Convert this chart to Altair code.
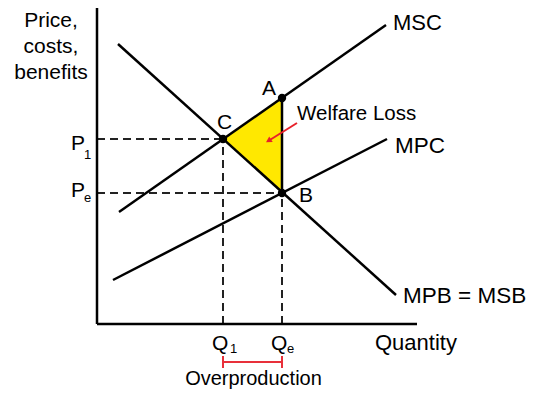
import altair as alt
import pandas as pd

# Curves (two end points each), in plot units (x: quantity, y: price)
curve_names = ["MSC", "MSC", "MPC", "MPC", "MPB", "MPB"]
curve_x = [22, 289, 16, 290, 21, 299]
curve_y = [112, 299, 44, 185, 280, 29]

# Key points
point_names = ["C", "A", "B"]
point_x = [126, 185, 185]
point_y = [185, 226, 131]

q1, qe = 126, 185
p1, pe = 185, 131
x_max, y_max = 320, 316

FONT = "Liberation Sans"

X = alt.X("x:Q", scale=alt.Scale(domain=[0, x_max], nice=False, zero=False), axis=None)
Y = alt.Y("y:Q", scale=alt.Scale(domain=[0, y_max], nice=False, zero=False), axis=None)

curves = pd.DataFrame({"curve": curve_names, "x": curve_x, "y": curve_y})
points = pd.DataFrame({"name": point_names, "x": point_x, "y": point_y})

# welfare loss triangle C-A-B (between MSC and MPB)
tri = pd.DataFrame({"x": [q1, qe], "y": [p1, point_y[1]], "y2": [p1, pe]})
tri_layer = alt.Chart(tri).mark_area(color="#FFE800", opacity=1).encode(
    x=X, y=Y, y2="y2:Q")

ab = pd.DataFrame({"x": [qe], "y": [point_y[1]], "y2": [pe]})
ab_layer = alt.Chart(ab).mark_rule(color="black", strokeWidth=2.5).encode(
    x=X, y=Y, y2="y2:Q")

# axes
axes = pd.DataFrame({"x": [0, 0], "y": [0, 0], "x2": [0, x_max], "y2": [319, 0]})
axes_layer = alt.Chart(axes).mark_rule(color="black", strokeWidth=2.5).encode(
    x=X, y=Y, x2="x2:Q", y2="y2:Q")

# dashed guides
dash = pd.DataFrame({
    "x": [0, 0, q1, qe],
    "y": [p1, pe, 0, 0],
    "x2": [q1, qe, q1, qe],
    "y2": [p1, pe, p1, pe],
})
dash_layer = alt.Chart(dash).mark_rule(color="#222222", strokeWidth=2, strokeDash=[8, 5]).encode(
    x=X, y=Y, x2="x2:Q", y2="y2:Q")

curve_layer = alt.Chart(curves).mark_line(color="black", strokeWidth=2.5).encode(
    x=X, y=Y, detail="curve:N")

point_layer = alt.Chart(points).mark_circle(color="black", size=70, opacity=1).encode(x=X, y=Y)

# red arrow
arrow = pd.DataFrame({"x": [200], "y": [201], "x2": [172], "y2": [183.5]})
arrow_layer = alt.Chart(arrow).mark_rule(color="#E8202A", strokeWidth=2).encode(
    x=X, y=Y, x2="x2:Q", y2="y2:Q")
head = pd.DataFrame({"x": [171.5], "y": [183.2]})
head_layer = alt.Chart(head).mark_point(shape="triangle-up", angle=238, size=45,
                                        filled=True, color="#E8202A", opacity=1).encode(x=X, y=Y)

# overproduction bracket
bar = pd.DataFrame({"x": [q1, q1, qe], "y": [-38, -32, -32], "x2": [qe, q1, qe], "y2": [-38, -44, -44]})
bar_layer = alt.Chart(bar).mark_rule(color="#E8303A", strokeWidth=2).encode(
    x=X, y=Y, x2="x2:Q", y2="y2:Q")

# text labels
left_text = pd.DataFrame({
    "t": ["MSC", "MPC", "MPB = MSB", "Welfare Loss", "B", "P", "1", "P", "e",
          "Q", "1", "Q", "e", "Quantity"],
    "x": [296, 298, 306, 200, 202, -26, -13, -26, -13, 115, 133, 174, 190, 278],
    "y": [294, 171, 21, 204, 122, 174, 165, 127, 122, -26, -29, -26, -29, -26],
    "s": [22, 22.5, 22.5, 20.5, 21, 21, 13, 21, 13, 21, 13, 21, 13, 22],
})
center_text = pd.DataFrame({
    "t": ["A", "C", "Price,", "costs,", "benefits", "Overproduction"],
    "x": [172, 127.5, -46, -46, -46, 156.5],
    "y": [229, 195, 297, 271, 245, -61],
    "s": [21, 21, 21, 21, 21, 20],
})
lt_layer = alt.Chart(left_text).mark_text(align="left", baseline="alphabetic", font=FONT,
                                          color="black").encode(
    x=X, y=Y, text="t:N", size=alt.Size("s:Q", scale=None))
ct_layer = alt.Chart(center_text).mark_text(align="center", baseline="alphabetic", font=FONT,
                                            color="black").encode(
    x=X, y=Y, text="t:N", size=alt.Size("s:Q", scale=None))

chart = alt.layer(
    tri_layer, dash_layer, axes_layer, curve_layer, ab_layer, arrow_layer, head_layer,
    bar_layer, point_layer, lt_layer, ct_layer
).properties(
    width=x_max, height=y_max,
    autosize=alt.AutoSizeParams(type="none"),
    padding={"left": 89, "top": 0, "right": 110, "bottom": 71},
    background="white",
).configure_view(stroke=None)

chart.save("out.html", embed_options={"renderer": "svg", "actions": False})
